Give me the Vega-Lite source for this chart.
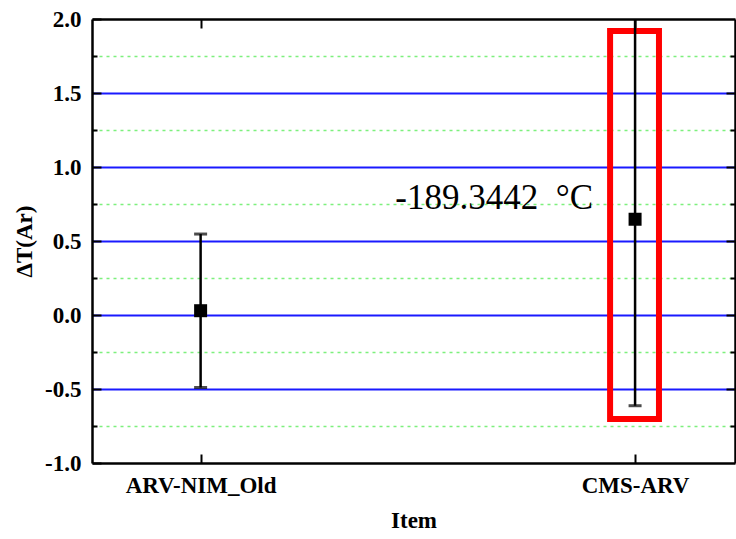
{
  "$schema": "https://vega.github.io/schema/vega-lite/v6.json",
  "width": 643,
  "height": 444,
  "autosize": "none",
  "padding": {"left": 92, "top": 19, "right": 1, "bottom": 76},
  "background": "white",
  "data": {"values": [
    {"item": "ARV-NIM_Old", "pos": 1, "value": 0.029, "lower": -0.49, "upper": 0.547},
    {"item": "CMS-ARV", "pos": 2, "value": 0.647, "lower": -0.613, "upper": 2.1}
  ]},
  "resolve": {"axis": {"x": "independent", "y": "independent"}},
  "layer": [
    {
      "data": {"values": [{"label": "box"}]},
      "mark": {"type": "rect", "fill": "transparent", "stroke": "#ff0000", "strokeWidth": 6},
      "encoding": {
        "x": {"datum": 1.9425, "type": "quantitative", "scale": {"domain": [0.75, 2.23], "nice": false, "zero": false},
          "axis": {"orient": "top", "values": [1, 2], "labels": false, "title": null, "grid": false, "tickSize": -9, "tickWidth": 2, "domainWidth": 2.5}},
        "x2": {"datum": 2.055},
        "y": {"datum": 1.919, "type": "quantitative", "scale": {"domain": [-1, 2], "nice": false, "zero": false},
          "axis": {"orient": "left", "values": [-0.75, -0.25, 0.25, 0.75, 1.25, 1.75], "labels": false, "title": null, "domain": false,
            "grid": true, "gridColor": "#7df07d", "gridDash": [3, 4], "gridWidth": 1.5, "tickSize": -5, "tickWidth": 2}},
        "y2": {"datum": -0.703}
      }
    },
    {
      "mark": {"type": "rule", "color": "black", "strokeWidth": 2.5, "clip": true},
      "encoding": {
        "x": {"field": "pos", "type": "quantitative", "scale": {"domain": [0.75, 2.23], "nice": false, "zero": false}, "axis": null},
        "y": {"field": "lower", "type": "quantitative", "scale": {"domain": [-1, 2], "nice": false, "zero": false},
          "axis": {"orient": "right", "values": [-0.5, 0, 0.5, 1, 1.5], "labels": false, "title": null, "grid": false, "tickSize": -9, "tickWidth": 2, "domainWidth": 2.5}},
        "y2": {"field": "upper"}
      }
    },
    {
      "mark": {"type": "tick", "orient": "horizontal", "color": "black", "thickness": 3, "size": 13, "clip": true},
      "encoding": {
        "x": {"field": "pos", "type": "quantitative", "scale": {"domain": [0.75, 2.23], "nice": false, "zero": false}, "axis": null},
        "y": {"field": "lower", "type": "quantitative", "scale": {"domain": [-1, 2], "nice": false, "zero": false},
          "axis": {"orient": "right", "values": [-0.75, -0.25, 0.25, 0.75, 1.25, 1.75], "labels": false, "title": null, "grid": false, "domain": false, "tickSize": -5, "tickWidth": 2}}
      }
    },
    {
      "mark": {"type": "tick", "orient": "horizontal", "color": "black", "thickness": 3, "size": 13, "clip": true},
      "encoding": {
        "x": {"field": "pos", "type": "quantitative", "scale": {"domain": [0.75, 2.23], "nice": false, "zero": false}, "axis": null},
        "y": {"field": "upper", "type": "quantitative", "scale": {"domain": [-1, 2], "nice": false, "zero": false}, "axis": null}
      }
    },
    {
      "mark": {"type": "point", "shape": "square", "filled": true, "color": "black", "size": 169, "opacity": 1},
      "encoding": {
        "x": {"field": "pos", "type": "quantitative", "scale": {"domain": [0.75, 2.23], "nice": false, "zero": false},
          "axis": {"orient": "bottom", "values": [1, 2], "title": "Item", "grid": false, "tickSize": -9, "tickWidth": 2, "domainWidth": 2.5,
            "labelExpr": "datum.value == 1 ? 'ARV-NIM_Old' : 'CMS-ARV'", "labelPadding": 20, "titlePadding": 12}},
        "y": {"field": "value", "type": "quantitative", "scale": {"domain": [-1, 2], "nice": false, "zero": false},
          "axis": {"orient": "left", "values": [-1, -0.5, 0, 0.5, 1, 1.5, 2], "title": "ΔT(Ar)", "tickSize": -9, "tickWidth": 2, "domainWidth": 2.5,
            "labelExpr": "replace(format(datum.value, '.1f'), '−', '-')", "labelPadding": 20, "titlePadding": 8,
            "grid": true, "gridColor": {"condition": {"test": "datum.value <= -1 || datum.value >= 2", "value": "transparent"}, "value": "#1a1aff"}, "gridWidth": 2}}
      }
    },
    {
      "data": {"values": [{"note": "-189.3442\u00a0\u00a0°C", "px": 1.448, "py": 0.716}]},
      "mark": {"type": "text", "font": "'Liberation Serif', serif", "fontSize": 35, "align": "left", "baseline": "alphabetic", "color": "black"},
      "encoding": {
        "x": {"field": "px", "type": "quantitative", "scale": {"domain": [0.75, 2.23], "nice": false, "zero": false}, "axis": null},
        "y": {"field": "py", "type": "quantitative", "scale": {"domain": [-1, 2], "nice": false, "zero": false}, "axis": null},
        "text": {"field": "note"}
      }
    }
  ],
  "config": {
    "view": {"stroke": null},
    "axis": {
      "domainColor": "black", "tickColor": "black",
      "labelFont": "'Liberation Serif', serif", "labelFontWeight": "bold", "labelFontSize": 23, "labelColor": "black",
      "titleFont": "'Liberation Serif', serif", "titleFontWeight": "bold", "titleFontSize": 23, "titleColor": "black",
      "labelOverlap": false, "labelFlush": false
    }
  }
}
